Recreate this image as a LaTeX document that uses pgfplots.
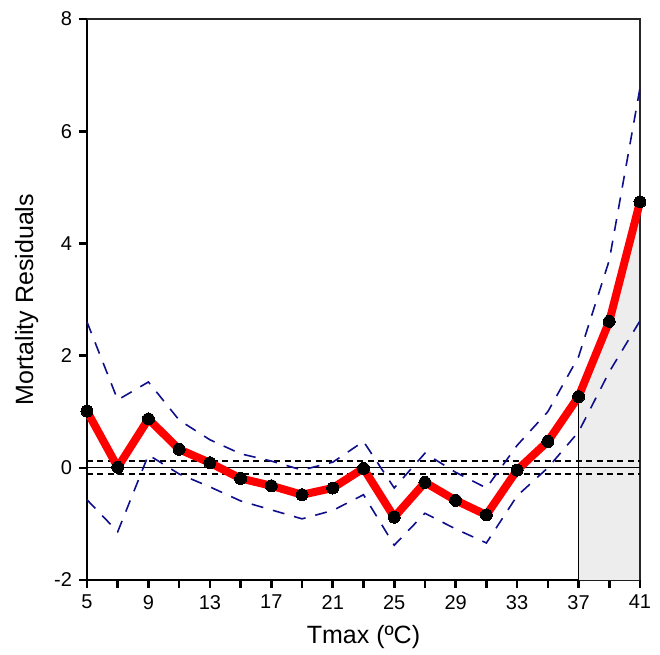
\documentclass[border=0pt]{standalone}
\usepackage{pgfplots}
\pgfplotsset{compat=1.18}
\usepackage{fontspec}
\setmainfont{Liberation Sans}
\definecolor{cinavy}{RGB}{15,15,140}
\definecolor{fitred}{RGB}{255,0,0}

\pgfplotstableread{
x    fit    lo     hi
5    1.01  -0.57   2.60
7    0.01  -1.14   1.21
9    0.87   0.23   1.53
11   0.33  -0.11   0.85
13   0.09  -0.34   0.50
15  -0.19  -0.59   0.25
17  -0.32  -0.75   0.12
19  -0.48  -0.91  -0.04
21  -0.36  -0.76   0.10
23  -0.01  -0.48   0.47
25  -0.88  -1.38  -0.36
27  -0.26  -0.81   0.26
29  -0.58  -1.09  -0.08
31  -0.84  -1.34  -0.36
33  -0.04  -0.50   0.40
35   0.47   0.00   1.00
37   1.27   0.64   1.98
39   2.61   1.71   3.70
41   4.74   2.62   6.77
}\resid

\begin{document}
\begin{tikzpicture}
\begin{axis}[
    scale only axis,
    width=276.5pt, height=280.5pt,
    xmin=5, xmax=41, ymin=-2, ymax=8,
    clip=false,
    axis lines=left,
    axis line style={black, line width=1pt, -},
    xtick={5,7,...,41},
    xticklabels={5,,9,,13,,17,,21,,25,,29,,33,,37,,41},
    ytick={-2,0,2,4,6,8},
    tick align=outside,
    major tick length=4pt,
    tick style={black, line width=1.3pt},
    /pgf/number format/assume math mode=true,
    ticklabel style={font=\fontsize{10}{12}\selectfont},
    label style={font=\fontsize{12.5}{14}\selectfont},
    xlabel={Tmax (ºC)},
    ylabel={Mortality Residuals},
    xlabel style={yshift=-1pt},
    ylabel style={yshift=1pt},
]
    % shaded region above 37 degrees
    \addplot[fill=black!7, draw=none] coordinates {
        (37,-2) (37,1.27) (39,2.61) (41,4.74) (41,-2)
    };
    % top and right frame
    \addplot[black!85, line width=0.7pt] coordinates {(5,8) (41,8) (41,-2)};
    % reference lines
    \addplot[black, line width=0.6pt] coordinates {(5,0) (41,0)};
    \addplot[black, line width=0.9pt, dash pattern=on 3pt off 2.2pt] coordinates {(5,0.115) (41,0.115)};
    \addplot[black, line width=0.9pt, dash pattern=on 3pt off 2.2pt] coordinates {(5,-0.115) (41,-0.115)};
    \addplot[black, line width=0.6pt] coordinates {(37,-2) (37,1.27)};
    % confidence band
    \addplot[cinavy, line width=0.8pt, dash pattern=on 6pt off 5pt] table[x=x, y=lo] {\resid};
    \addplot[cinavy, line width=0.8pt, dash pattern=on 6pt off 5pt] table[x=x, y=hi] {\resid};
    % fitted residuals
    \addplot[fitred, line width=4pt, mark=*, mark size=3pt,
        mark options={black, fill=black, line width=0pt}] table[x=x, y=fit] {\resid};
\end{axis}
\path (current axis.south west) ++(-43.5pt,-35pt);
\path (current axis.north east) ++(10pt,9.5pt);
\end{tikzpicture}
\end{document}
